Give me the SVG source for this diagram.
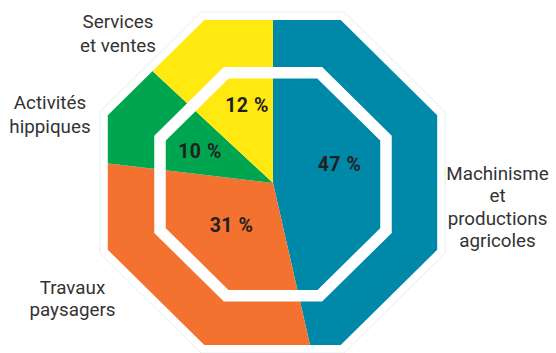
<svg xmlns="http://www.w3.org/2000/svg" width="556" height="353" viewBox="0 0 556 353">
  <style>
    .lbl { font-family: Roboto, "Liberation Sans", sans-serif; font-size: 18.8px; fill: #333333; text-anchor: middle; }
    .pct { font-family: Roboto, "Liberation Sans", sans-serif; font-size: 19.5px; font-weight: bold; fill: #231f20; text-anchor: middle; letter-spacing: 0.5px; }
    .blue { fill: #0088a8; }
    .orange { fill: #f37230; }
    .green { fill: #00a54f; }
    .yellow { fill: #ffe911; }
  </style>
  <defs>
    <clipPath id="oct">
      <polygon points="204.3,20 340.7,20 437.2,115.2 437.2,249.8 340.7,345 204.3,345 107.8,249.8 107.8,115.2"/>
    </clipPath>
  </defs>
  <rect width="556" height="353" fill="#ffffff"/>
  <g id="halo">
    <polygon points="201,12 344,12 445.2,111.9 445.2,253.1 344,353 201,353 99.8,253.1 99.8,111.9" fill="none" stroke="#e4eeee" stroke-width="1"/>
  </g>
  <g id="pie" clip-path="url(#oct)">
    <g id="slice-machinisme"><polygon class="blue" points="273,183 273,-120 600,-120 600,450 330.8,436"/></g>
    <g id="slice-travaux"><polygon class="orange" points="273,183 330.8,436 -50,436 -50,144.4"/></g>
    <g id="slice-hippiques"><polygon class="green" points="273,183 -50,144.4 -50,-117.3"/></g>
    <g id="slice-services"><polygon class="yellow" points="273,183 -50,-117.3 273,-120"/></g>
  </g>
  <g id="ring">
    <polygon points="226.2,72.8 319.8,72.8 386,138.1 386,230.5 319.8,295.8 226.2,295.8 160,230.5 160,138.1" fill="none" stroke="#ffffff" stroke-width="11.5" stroke-linejoin="miter"/>
  </g>
  <g id="percentages">
    <text class="pct" x="247" y="112">12 %</text>
    <text class="pct" x="200" y="158">10 %</text>
    <text class="pct" x="339.5" y="171">47 %</text>
    <text class="pct" x="231.5" y="231.7">31 %</text>
  </g>
  <g id="label-services">
    <text class="lbl" x="118" y="27.5">Services</text>
    <text class="lbl" x="118" y="51.5">et ventes</text>
  </g>
  <g id="label-hippiques">
    <text class="lbl" x="50" y="109.3">Activités</text>
    <text class="lbl" x="50" y="133.3">hippiques</text>
  </g>
  <g id="label-machinisme">
    <text class="lbl" x="497.5" y="179.5">Machinisme</text>
    <text class="lbl" x="497.5" y="202">et</text>
    <text class="lbl" x="497.5" y="224.5">productions</text>
    <text class="lbl" x="497.5" y="247">agricoles</text>
  </g>
  <g id="label-travaux">
    <text class="lbl" x="72.5" y="293.5">Travaux</text>
    <text class="lbl" x="72.5" y="315.5">paysagers</text>
  </g>
</svg>
